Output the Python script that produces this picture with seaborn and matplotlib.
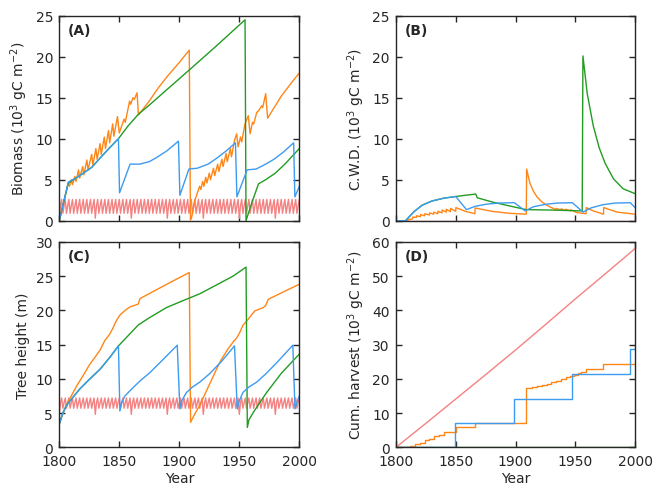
import numpy as np
import pandas as pd
import seaborn as sns
import matplotlib
matplotlib.use("Agg")
import matplotlib.pyplot as plt

# ---- data ----
years = np.arange(1800, 2001)

# red: frequent harvest run (annual values)
red_biomass = [
    0.3, 1.8, 2.6, 0.9, 1.8, 2.6, 0.9, 1.8, 2.6, 0.9, 1.8, 2.6, 0.9, 1.8, 2.6, 0.9, 1.8, 2.6, 0.9, 1.8, 2.6, 0.9, 1.8, 2.6, 0.9, 1.8, 2.6, 0.9, 1.8, 2.6,
    0.3, 1.8, 2.6, 0.9, 1.8, 2.6, 0.9, 1.8, 2.6, 0.9, 1.8, 2.6, 0.9, 1.8, 2.6, 0.9, 1.8, 2.6, 0.9, 1.8, 2.6, 0.9, 1.8, 2.6, 0.9, 1.8, 2.6, 0.9, 1.8, 2.6,
    0.3, 1.8, 2.6, 0.9, 1.8, 2.6, 0.9, 1.8, 2.6, 0.9, 1.8, 2.6, 0.9, 1.8, 2.6, 0.9, 1.8, 2.6, 0.9, 1.8, 2.6, 0.9, 1.8, 2.6, 0.9, 1.8, 2.6, 0.9, 1.8, 2.6,
    0.3, 1.8, 2.6, 0.9, 1.8, 2.6, 0.9, 1.8, 2.6, 0.9, 1.8, 2.6, 0.9, 1.8, 2.6, 0.9, 1.8, 2.6, 0.9, 1.8, 2.6, 0.9, 1.8, 2.6, 0.9, 1.8, 2.6, 0.9, 1.8, 2.6,
    0.3, 1.8, 2.6, 0.9, 1.8, 2.6, 0.9, 1.8, 2.6, 0.9, 1.8, 2.6, 0.9, 1.8, 2.6, 0.9, 1.8, 2.6, 0.9, 1.8, 2.6, 0.9, 1.8, 2.6, 0.9, 1.8, 2.6, 0.9, 1.8, 2.6,
    0.3, 1.8, 2.6, 0.9, 1.8, 2.6, 0.9, 1.8, 2.6, 0.9, 1.8, 2.6, 0.9, 1.8, 2.6, 0.9, 1.8, 2.6, 0.9, 1.8, 2.6, 0.9, 1.8, 2.6, 0.9, 1.8, 2.6, 0.9, 1.8, 2.6,
    0.3, 1.8, 2.6, 0.9, 1.8, 2.6, 0.9, 1.8, 2.6, 0.9, 1.8, 2.6, 0.9, 1.8, 2.6, 0.9, 1.8, 2.6, 0.9, 1.8, 2.6,
]
red_height = [
    4.9, 6.5, 7.2, 5.7, 6.5, 7.2, 5.7, 6.5, 7.2, 5.7, 6.5, 7.2, 5.7, 6.5, 7.2, 5.7, 6.5, 7.2, 5.7, 6.5, 7.2, 5.7, 6.5, 7.2, 5.7, 6.5, 7.2, 5.7, 6.5, 7.2,
    4.8, 6.5, 7.2, 5.7, 6.5, 7.2, 5.7, 6.5, 7.2, 5.7, 6.5, 7.2, 5.7, 6.5, 7.2, 5.7, 6.5, 7.2, 5.7, 6.5, 7.2, 5.7, 6.5, 7.2, 5.7, 6.5, 7.2, 5.7, 6.5, 7.2,
    4.8, 6.5, 7.2, 5.7, 6.5, 7.2, 5.7, 6.5, 7.2, 5.7, 6.5, 7.2, 5.7, 6.5, 7.2, 5.7, 6.5, 7.2, 5.7, 6.5, 7.2, 5.7, 6.5, 7.2, 5.7, 6.5, 7.2, 5.7, 6.5, 7.2,
    4.8, 6.5, 7.2, 5.7, 6.5, 7.2, 5.7, 6.5, 7.2, 5.7, 6.5, 7.2, 5.7, 6.5, 7.2, 5.7, 6.5, 7.2, 5.7, 6.5, 7.2, 5.7, 6.5, 7.2, 5.7, 6.5, 7.2, 5.7, 6.5, 7.2,
    4.8, 6.5, 7.2, 5.7, 6.5, 7.2, 5.7, 6.5, 7.2, 5.7, 6.5, 7.2, 5.7, 6.5, 7.2, 5.7, 6.5, 7.2, 5.7, 6.5, 7.2, 5.7, 6.5, 7.2, 5.7, 6.5, 7.2, 5.7, 6.5, 7.2,
    4.8, 6.5, 7.2, 5.7, 6.5, 7.2, 5.7, 6.5, 7.2, 5.7, 6.5, 7.2, 5.7, 6.5, 7.2, 5.7, 6.5, 7.2, 5.7, 6.5, 7.2, 5.7, 6.5, 7.2, 5.7, 6.5, 7.2, 5.7, 6.5, 7.2,
    4.8, 6.5, 7.2, 5.7, 6.5, 7.2, 5.7, 6.5, 7.2, 5.7, 6.5, 7.2, 5.7, 6.5, 7.2, 5.7, 6.5, 7.2, 5.7, 6.5, 7.2,
]
red_cwd_year = [1800, 2000]
red_cwd = [0.0, 0.0]
red_cum_year = [1800, 1825, 1850, 1875, 1900, 1925, 1950, 1975, 2000]
red_cum = [0, 7.0, 14.1, 21.2, 28.4, 35.8, 43.3, 50.6, 58.0]

# orange
orange_biomass_year = [1800, 1807.5, 1808.5, 1810, 1811, 1813, 1814, 1816, 1817, 1819.5, 1820.5,
                       1823, 1824, 1827, 1828, 1830.5, 1831.5, 1834, 1835, 1837.5, 1838.5, 1841,
                       1842, 1844.5, 1845.5, 1848.5, 1850, 1854, 1855, 1858.6, 1859.5, 1861.4,
                       1862.5, 1864.8, 1866, 1875, 1882, 1890, 1900, 1908.3, 1909.3, 1910.3,
                       1913, 1915.8, 1917, 1918, 1919.5, 1920.5, 1922, 1923, 1925, 1926, 1928.5,
                       1929.5, 1932, 1933, 1935.5, 1936.5, 1939, 1940, 1942.5, 1943.5, 1946,
                       1947.8, 1949, 1951, 1952, 1954.7, 1957.5, 1959, 1961, 1962, 1964.5, 1966,
                       1968.6, 1969.5, 1972, 1973.6, 1985, 1996, 2000]
orange_biomass = [0, 4.6, 4.2, 5.0, 4.4, 5.4, 4.8, 6.2, 5.2, 6.6, 5.6,
                  7.4, 6.2, 8.1, 6.8, 8.8, 7.5, 9.4, 8.1, 10.2, 8.8, 11.0,
                  9.5, 11.8, 10.3, 12.7, 10.7, 12.4, 12.0, 14.6, 14.2, 15.0,
                  14.8, 15.6, 12.9, 14.6, 16.1, 17.6, 19.3, 20.8, 0.1, 0.4,
                  2.5, 3.7, 4.2, 3.8, 4.8, 4.2, 5.3, 4.6, 5.8, 5.0, 6.4,
                  5.5, 6.9, 6.0, 7.5, 6.6, 8.2, 7.2, 8.8, 7.8, 9.8,
                  10.6, 9.0, 10.2, 9.6, 11.8, 12.8, 10.6, 12.0, 11.8, 13.2, 13.4,
                  14.0, 13.8, 15.5, 12.5, 15.2, 17.3, 18.0]
orange_cwd_year = [1800, 1808, 1814, 1814.1, 1817, 1817.1, 1820.5, 1820.6, 1824, 1824.1, 1828,
                   1828.1, 1831.5, 1831.6, 1835, 1835.1, 1838.5, 1838.6, 1842, 1842.1, 1845.5,
                   1845.6, 1850, 1850.1, 1858, 1866, 1866.2, 1880, 1895, 1909, 1909.3, 1912,
                   1915, 1918, 1922, 1926, 1930, 1934, 1934.1, 1938, 1938.1, 1942, 1942.1, 1946,
                   1946.1, 1951, 1959, 1959.2, 1965, 1973.6, 1973.8, 1985, 2000]
orange_cwd = [0, 0, 0.25, 0.45, 0.4, 0.6, 0.5, 0.75, 0.6, 0.85, 0.7,
              0.95, 0.8, 1.05, 0.85, 1.15, 0.95, 1.3, 1.05, 1.4, 1.1,
              1.5, 1.15, 1.6, 1.15, 0.85, 1.55, 1.15, 0.9, 0.8, 6.3, 4.6,
              3.6, 2.9, 2.3, 1.9, 1.6, 1.35, 1.5, 1.3, 1.45, 1.25, 1.4, 1.2,
              1.35, 1.0, 0.85, 1.6, 1.2, 0.8, 1.6, 1.05, 0.8]
orange_height_year = [1800, 1803, 1806, 1810, 1815, 1820, 1825, 1830, 1834, 1838, 1842, 1845,
                      1847, 1850.5, 1855, 1859, 1865.8, 1867.2, 1880, 1895, 1908.3, 1909.4,
                      1913, 1917, 1922, 1926, 1931, 1935, 1940, 1945, 1948, 1950.5, 1953,
                      1957.5, 1960, 1963, 1970, 1972, 1974.2, 1987, 2000]
orange_height = [3.4, 5.0, 6.2, 7.5, 9.1, 10.5, 12.0, 13.2, 14.2, 15.6, 16.5, 17.5,
                 18.3, 19.3, 20.0, 20.5, 20.9, 21.7, 22.9, 24.3, 25.5, 3.65,
                 4.9, 6.1, 8.0, 9.5, 11.4, 12.8, 14.2, 15.4, 16.0, 16.8, 17.8,
                 18.7, 19.3, 19.9, 20.4, 20.7, 21.6, 22.7, 23.8]
orange_cum_year = [1800, 1809, 1812, 1816, 1820, 1824, 1828, 1832, 1836, 1840, 1850, 1866,
                   1909, 1914, 1918, 1922, 1926, 1930, 1934, 1938, 1942, 1946, 1949, 1952,
                   1955, 1959, 1973.6, 2000]
orange_cum = [0, 0.2, 0.5, 0.9, 1.4, 2.0, 2.5, 3.3, 3.6, 4.6, 5.8, 7.1,
              17.3, 17.5, 17.8, 18.2, 18.6, 19.0, 19.4, 19.9, 20.4, 20.9, 21.2, 21.6,
              21.9, 22.9, 24.3, 24.3]

# green: no harvest, one disturbance
green_biomass_year = [1800, 1807.5, 1815, 1820, 1827, 1835, 1842, 1849.3, 1857, 1866, 1875,
                      1882, 1910, 1930, 1954.8, 1955.6, 1960, 1966, 1972, 1980, 1988, 2000]
green_biomass = [0, 4.6, 5.3, 5.8, 6.5, 7.8, 8.9, 10.0, 11.5, 13.0, 14.1,
                 15.0, 18.6, 21.2, 24.5, 0.0, 2.0, 4.5, 5.0, 5.8, 6.9, 8.8]
green_cwd_year = [1800, 1808, 1815, 1822, 1830, 1840, 1850, 1858, 1866.7, 1868, 1880, 1895,
                  1909, 1930, 1954, 1955.8, 1956.4, 1960, 1965, 1970, 1975, 1982, 1990, 2000]
green_cwd = [0, 0, 1.1, 1.9, 2.4, 2.75, 2.95, 3.1, 3.25, 2.8, 2.3, 1.8,
             1.35, 1.3, 1.2, 1.2, 20.1, 15.5, 11.6, 8.9, 7.0, 5.1, 3.9, 3.3]
green_height_year = [1800, 1803, 1806, 1810, 1817, 1825, 1834, 1842, 1849.3, 1858, 1865.8,
                     1875, 1889.4, 1903, 1917, 1930, 1945, 1955.6, 1956.7, 1958, 1961.7,
                     1967, 1972.8, 1985, 2000]
green_height = [3.4, 5.0, 6.1, 7.0, 8.5, 9.9, 11.4, 13.1, 14.8, 16.4, 17.85,
                18.9, 20.4, 21.4, 22.4, 23.6, 25.0, 26.3, 2.9, 4.0, 5.1,
                6.5, 8.0, 10.8, 13.6]
green_cum_year = [1800, 2000]
green_cum = [0, 0]

# blue: clear-cut about every 50 years
blue_biomass_year = [1800, 1807.5, 1815, 1820, 1827, 1835, 1842, 1849.3, 1850.2, 1859, 1867,
                     1875, 1881, 1889.5, 1899.3, 1900.5, 1908, 1915, 1924, 1931, 1939, 1946.8,
                     1948, 1956.5, 1964, 1972, 1979, 1987, 1995.3, 1996.3, 2000]
blue_biomass = [0, 4.7, 5.3, 5.8, 6.5, 7.8, 8.9, 10.0, 3.4, 6.9, 6.9,
                7.2, 7.7, 8.5, 9.7, 3.1, 6.3, 6.4, 6.9, 7.6, 8.5, 9.5,
                2.9, 6.2, 6.3, 6.9, 7.5, 8.4, 9.5, 2.9, 4.2]
blue_cwd_year = [1800, 1808, 1815, 1822, 1830, 1840, 1850, 1859, 1866, 1875, 1885, 1899,
                 1908, 1915, 1925, 1935, 1947.5, 1956.5, 1963, 1973, 1983, 1996, 2000]
blue_cwd = [0, 0, 1.1, 1.9, 2.4, 2.75, 2.95, 1.35, 1.75, 2.0, 2.15, 2.2,
            1.2, 1.7, 2.0, 2.15, 2.2, 1.05, 1.55, 1.95, 2.15, 2.2, 1.6]
blue_height_year = [1800, 1803, 1806, 1810, 1817, 1825, 1834, 1842, 1849.3, 1850.5, 1852,
                    1854.7, 1861.7, 1868, 1875.5, 1887, 1898.3, 1900.5, 1902, 1906, 1911,
                    1917, 1925, 1935, 1946, 1948.3, 1950, 1953, 1958, 1964.4, 1972, 1982,
                    1994.6, 1996.4, 1998, 2000]
blue_height = [3.4, 5.0, 6.1, 7.0, 8.5, 9.9, 11.4, 13.1, 14.8, 5.3, 6.5,
               7.5, 8.75, 9.8, 10.9, 12.9, 14.9, 5.6, 6.8, 8.0, 8.8,
               9.5, 10.7, 12.5, 14.8, 5.6, 6.8, 8.0, 8.8, 9.5, 10.7, 12.5,
               14.9, 5.6, 6.6, 7.5]
blue_cum_year = [1800, 1849.5, 1898.5, 1947, 1995.5, 2000]
blue_cum = [0, 7.0, 14.2, 21.4, 28.6, 28.6]

panel_labels = ["(A)", "(B)", "(C)", "(D)"]
ylabels = ["Biomass ($10^3$ gC m$^{-2}$)", "C.W.D. ($10^3$ gC m$^{-2}$)",
           "Tree height (m)", "Cum. harvest ($10^3$ gC m$^{-2}$)"]
yticks = [np.arange(0, 26, 5), np.arange(0, 26, 5), np.arange(0, 31, 5), np.arange(0, 61, 10)]
xticks = [1800, 1850, 1900, 1950, 2000]

RED = "#f58282"
ORANGE = "#ff8616"
GREEN = "#229c22"
BLUE = "#3d9bf0"

# ---- style ----
sns.set_style("ticks", {"xtick.direction": "in", "ytick.direction": "in"})
plt.rcParams["font.family"] = ["DejaVu Sans"]
plt.rcParams["font.size"] = 10
plt.rcParams["xtick.top"] = True
plt.rcParams["ytick.right"] = True
plt.rcParams["xtick.major.size"] = 4.5
plt.rcParams["ytick.major.size"] = 4.5
plt.rcParams["xtick.major.pad"] = 5
plt.rcParams["ytick.major.pad"] = 4.5
plt.rcParams["axes.linewidth"] = 1.0
plt.rcParams["mathtext.default"] = "regular"

fig = plt.figure(figsize=(6.66, 4.89), dpi=100)
axA = fig.add_axes([0.0890, 0.5466, 0.3604, 0.4192])
axB = fig.add_axes([0.5946, 0.5466, 0.3589, 0.4192])
axC = fig.add_axes([0.0890, 0.0832, 0.3604, 0.4204])
axD = fig.add_axes([0.5946, 0.0832, 0.3589, 0.4204])
axes = [axA, axB, axC, axD]


def draw(ax, x, y, color, **kw):
    sns.lineplot(x=x, y=y, ax=ax, color=color, estimator=None, sort=False,
                 errorbar=None, lw=1.0, legend=False, **kw)


# A: biomass
draw(axA, years, red_biomass, RED)
draw(axA, orange_biomass_year, orange_biomass, ORANGE)
draw(axA, green_biomass_year, green_biomass, GREEN)
draw(axA, blue_biomass_year, blue_biomass, BLUE)

# B: coarse woody debris
draw(axB, red_cwd_year, red_cwd, RED)
draw(axB, orange_cwd_year, orange_cwd, ORANGE)
draw(axB, green_cwd_year, green_cwd, GREEN)
draw(axB, blue_cwd_year, blue_cwd, BLUE)

# C: tree height
draw(axC, years, red_height, RED)
draw(axC, orange_height_year, orange_height, ORANGE)
draw(axC, green_height_year, green_height, GREEN)
draw(axC, blue_height_year, blue_height, BLUE)

# D: cumulative harvest
draw(axD, red_cum_year, red_cum, RED)
draw(axD, green_cum_year, green_cum, GREEN)
draw(axD, orange_cum_year, orange_cum, ORANGE, drawstyle="steps-post")
draw(axD, blue_cum_year, blue_cum, BLUE, drawstyle="steps-post")

for i, ax in enumerate(axes):
    ax.set_xlim(1800, 2000)
    ax.set_ylim(yticks[i][0], yticks[i][-1])
    ax.set_xticks(xticks)
    ax.set_yticks(yticks[i])
    ax.set_ylabel(ylabels[i], fontsize=10)
    ax.text(0.035, 0.965, panel_labels[i], transform=ax.transAxes, va="top", ha="left",
            fontsize=10, fontweight="bold")
    if i < 2:
        ax.set_xticklabels([])
        ax.set_xlabel("")
    else:
        ax.set_xlabel("Year", fontsize=10, labelpad=2)
    ax.tick_params(labelsize=10, width=1.0)

fig.savefig("out.png", dpi=100)
